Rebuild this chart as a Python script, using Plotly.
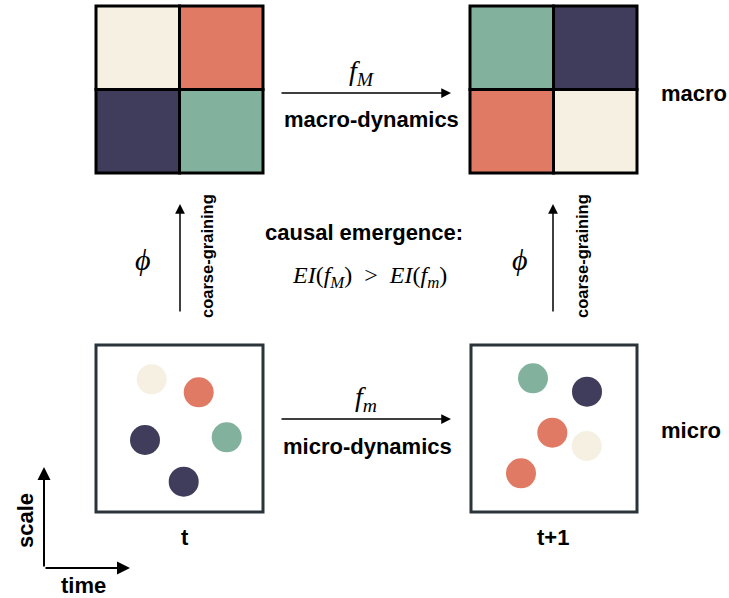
import plotly.graph_objects as go

W, H = 729, 598

# palette
CREAM, ORANGE, NAVY, GREEN = "#F5F0E1", "#E07A64", "#3F3D5B", "#82B29D"

# macro grids (2x2), cell colours row-major (top-left, top-right, bottom-left, bottom-right)
macro_t_colors = [CREAM, ORANGE, NAVY, GREEN]
macro_t1_colors = [GREEN, NAVY, ORANGE, CREAM]

# micro states: particle positions and colours
micro_t_x = [151.7, 198.7, 145.0, 226.7, 183.7]
micro_t_y = [379.3, 392.3, 440.0, 437.3, 481.7]
micro_t_c = [CREAM, ORANGE, NAVY, GREEN, NAVY]

micro_t1_x = [533.0, 587.0, 552.3, 586.7, 521.0]
micro_t1_y = [378.3, 391.7, 432.7, 446.0, 473.3]
micro_t1_c = [GREEN, NAVY, ORANGE, CREAM, ORANGE]

# layout geometry of the panels
grid_boxes = [(96, 6, 263, 173), (470, 6, 637, 173)]
micro_boxes = [(96, 345, 263, 512), (471, 345, 637, 512)]

fig = go.Figure()

shapes = []
for (x0, y0, x1, y1), cols in zip(grid_boxes, [macro_t_colors, macro_t1_colors]):
    xm, ym = (x0 + x1) / 2, (y0 + y1) / 2
    cells = [(x0, y0, xm, ym), (xm, y0, x1, ym), (x0, ym, xm, y1), (xm, ym, x1, y1)]
    for (a, b, c, d), col in zip(cells, cols):
        shapes.append(dict(type="rect", x0=a, y0=b, x1=c, y1=d, fillcolor=col,
                           line=dict(color="black", width=3), layer="below"))
for (x0, y0, x1, y1) in micro_boxes:
    shapes.append(dict(type="rect", x0=x0, y0=y0, x1=x1, y1=y1, fillcolor="white",
                       line=dict(color="#2A343A", width=3), layer="below"))

for xs, ys, cs in [(micro_t_x, micro_t_y, micro_t_c), (micro_t1_x, micro_t1_y, micro_t1_c)]:
    fig.add_trace(go.Scatter(x=xs, y=ys, mode="markers", hoverinfo="skip",
                             marker=dict(size=30, color=cs, line=dict(width=0))))

ann = []
def arrow(x0, y0, x1, y1, w=1.5):
    ann.append(dict(x=x1, y=y1, ax=x0, ay=y0, xref="x", yref="y", axref="x", ayref="y",
                    text="", showarrow=True, arrowhead=2, arrowsize=1.3, arrowwidth=w,
                    arrowcolor="black", standoff=0, startstandoff=0))

def label(x, y, text, size=22, family="Liberation Sans", angle=0):
    ann.append(dict(x=x, y=y, xref="x", yref="y", text=text, showarrow=False,
                    font=dict(family=family, size=size, color="black"), textangle=angle,
                    xanchor="center", yanchor="middle"))

arrow(280, 93, 451, 93)
arrow(280, 419, 451, 419)
arrow(180, 313, 180, 204)
arrow(553, 313, 553, 204)
arrow(44, 568, 44, 467, 2)
arrow(44, 568, 130, 568, 2)

SERIF = "Liberation Serif"
label(362, 72, "<i>f</i><sub><i>M</i></sub>", size=28, family=SERIF)
label(371, 119, "<b>macro-dynamics</b>")
label(366, 398, "<i>f</i><sub><i>m</i></sub>", size=28, family=SERIF)
label(367, 446, "<b>micro-dynamics</b>")
label(143, 259, "<i>ϕ</i>", size=30, family=SERIF)
label(520, 259, "<i>ϕ</i>", size=30, family=SERIF)
label(207, 256, "<b>coarse-graining</b>", size=16.5, angle=-90)
label(582, 256, "<b>coarse-graining</b>", size=16.5, angle=-90)
label(364, 232, "<b>causal emergence:</b>")
label(369, 277, "<i>EI</i>(<i>f</i><sub><i>M</i></sub>)  >  <i>EI</i>(<i>f</i><sub><i>m</i></sub>)", size=24, family=SERIF)
label(694, 93, "<b>macro</b>")
label(691, 430, "<b>micro</b>")
label(185, 537, "<b>t</b>")
label(553, 537, "<b>t+1</b>")
label(25, 521, "<b>scale</b>", angle=-90)
label(83, 585, "<b>time</b>")

fig.update_layout(
    width=W, height=H, margin=dict(l=0, r=0, t=0, b=0),
    paper_bgcolor="white", plot_bgcolor="white", showlegend=False,
    shapes=shapes, annotations=ann,
    xaxis=dict(range=[0, W], visible=False, fixedrange=True),
    yaxis=dict(range=[H, 0], visible=False, fixedrange=True),
)
fig.write_html("out.html", config={"displayModeBar": False, "staticPlot": True},
               post_script="document.body.style.margin='0';document.body.style.overflow='hidden';")
